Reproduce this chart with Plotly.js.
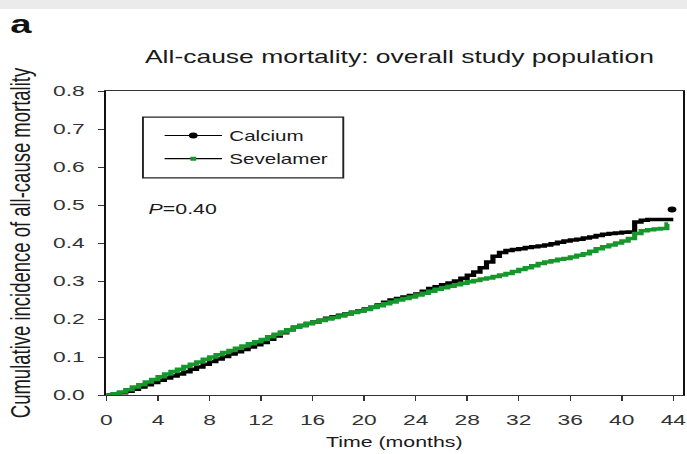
<!DOCTYPE html>
<html>
<head>
<meta charset="utf-8">
<script src="https://cdn.plot.ly/plotly-3.0.1.min.js"></script>
<style>
  html, body { margin: 0; padding: 0; background: #ffffff; overflow: hidden; }
  #wrap { width: 687px; height: 454px; overflow: hidden; position: relative; }
  #chart { width: 467px; height: 454px; transform: scaleX(1.4711); transform-origin: 0 0; }
</style>
</head>
<body>
<div id="wrap"><div id="chart"></div></div>
<script>
// ---- data ----
const panelLabel = "a";
const chartTitle = "All-cause mortality: overall study population";
const xTitle = "Time (months)";
const yTitle = "Cumulative incidence of all-cause mortality";
const seriesNames = ["Calcium", "Sevelamer"];
const pLabel = "<i>P</i>=0.40";
const xTickVals = [0, 4, 8, 12, 16, 20, 24, 28, 32, 36, 40, 44];
const yTickVals = [0, 0.1, 0.2, 0.3, 0.4, 0.5, 0.6, 0.7, 0.8];

const calciumTime = [0,0.5,1,1.5,2,2.5,3,3.5,4,4.5,5,5.5,6,6.5,7,7.5,8,8.5,9,9.5,10,10.5,11,11.5,12,12.5,13,13.5,14,14.5,15,15.5,16,16.5,17,17.5,18,18.5,19,19.5,20,20.5,21,21.5,22,22.5,23,23.5,24,24.5,25,25.5,26,26.5,27,27.5,28,28.5,29,29.5,30,30.5,31,31.5,32,32.5,33,33.5,34,34.5,35,35.5,36,36.5,37,37.5,38,38.5,39,39.5,40,40.5,41,41.5,42,44];
const calciumValue = [0,0.002,0.006,0.010,0.015,0.021,0.027,0.033,0.039,0.045,0.050,0.055,0.061,0.068,0.074,0.081,0.088,0.095,0.101,0.108,0.114,0.120,0.126,0.132,0.138,0.147,0.155,0.164,0.172,0.178,0.183,0.188,0.192,0.197,0.202,0.206,0.210,0.214,0.218,0.222,0.226,0.231,0.237,0.244,0.250,0.254,0.258,0.262,0.266,0.273,0.280,0.285,0.290,0.295,0.300,0.307,0.315,0.324,0.335,0.350,0.365,0.375,0.380,0.383,0.385,0.388,0.390,0.392,0.395,0.398,0.402,0.405,0.408,0.410,0.413,0.416,0.420,0.423,0.425,0.426,0.428,0.429,0.455,0.460,0.462,0.462];
const calciumEndTime = [43.9];
const calciumEndValue = [0.488];

const sevelamerTime = [0,0.5,1,1.5,2,2.5,3,3.5,4,4.5,5,5.5,6,6.5,7,7.5,8,8.5,9,9.5,10,10.5,11,11.5,12,12.5,13,13.5,14,14.5,15,15.5,16,16.5,17,17.5,18,18.5,19,19.5,20,20.5,21,21.5,22,22.5,23,23.5,24,24.5,25,25.5,26,26.5,27,27.5,28,28.5,29,29.5,30,30.5,31,31.5,32,32.5,33,33.5,34,34.5,35,35.5,36,36.5,37,37.5,38,38.5,39,39.5,40,40.5,41,41.5,42,42.5,43,43.5,43.6];
const sevelamerValue = [0,0.003,0.008,0.014,0.021,0.027,0.034,0.041,0.048,0.055,0.062,0.068,0.075,0.081,0.087,0.094,0.100,0.106,0.112,0.117,0.123,0.129,0.135,0.140,0.146,0.153,0.160,0.166,0.172,0.178,0.183,0.188,0.192,0.196,0.200,0.204,0.208,0.213,0.217,0.221,0.225,0.230,0.235,0.240,0.245,0.250,0.254,0.258,0.263,0.268,0.273,0.278,0.282,0.286,0.290,0.294,0.298,0.301,0.305,0.308,0.312,0.316,0.320,0.325,0.330,0.335,0.340,0.346,0.350,0.353,0.357,0.359,0.363,0.368,0.372,0.378,0.385,0.390,0.395,0.400,0.405,0.412,0.425,0.432,0.435,0.437,0.438,0.450,0.450];

// ---- styling ----
const FONT = "Liberation Sans, Arial, Helvetica, sans-serif";
const BLACK = "#000000";
const GREEN = "#17962b";

const traces = [
  { x: calciumTime, y: calciumValue, type: "scatter", mode: "lines",
    line: { color: BLACK, width: 3.5, shape: "hv" }, showlegend: false, hoverinfo: "skip" },
  { x: calciumEndTime, y: calciumEndValue, type: "scatter", mode: "markers",
    marker: { color: BLACK, size: 6 }, showlegend: false, hoverinfo: "skip" },
  { x: sevelamerTime, y: sevelamerValue, type: "scatter", mode: "lines",
    line: { color: GREEN, width: 3.5, shape: "hv" }, showlegend: false, hoverinfo: "skip" },
  // legend entries
  { x: [null], y: [null], type: "scatter", mode: "lines+markers", name: seriesNames[0],
    line: { color: "rgb(0,0,0)", width: 1.2 }, marker: { color: BLACK, size: 6 }, legendgroup: "c" },
  { x: [null], y: [null], type: "scatter", mode: "lines+markers", name: seriesNames[1],
    line: { color: "rgb(0,0,0)", width: 1.2 },
    marker: { color: GREEN, size: 4, symbol: "square", line: { width: 0 } }, legendgroup: "s" }
];

const layout = {
  width: 467, height: 454,
  margin: { l: 72.05, r: 3.4, t: 91, b: 59, pad: 0 },
  paper_bgcolor: "#ffffff", plot_bgcolor: "#ffffff",
  font: { family: FONT, color: "#1a1a1a", size: 14 },
  title: { text: chartTitle, font: { family: FONT, size: 18, color: "#1a1a1a" },
           x: 0.509, xref: "paper", xanchor: "center", y: 1 - 57/454, yref: "container", yanchor: "middle" },
  showlegend: true,
  legend: { x: 0.089, xanchor: "left", y: 0.905, yanchor: "top",
            bgcolor: "rgba(0,0,0,0)", borderwidth: 0, itemwidth: 39,
            font: { family: FONT, size: 14, color: "#1a1a1a" }, traceorder: "grouped", tracegroupgap: 2 },
  xaxis: {
    range: [-0.04, 44.72], tickvals: xTickVals, ticktext: xTickVals.map(String),
    showgrid: false, zeroline: false, showline: true, linecolor: "#333333", linewidth: 1.2, mirror: true,
    ticks: "outside", ticklen: 5, tickwidth: 1, tickcolor: "#333333", ticklabelstandoff: 5,
    tickfont: { family: FONT, size: 15.5, color: "#333333" },
    title: { text: xTitle, font: { family: FONT, size: 14.5, color: "#1a1a1a" }, standoff: 10 },
    automargin: false
  },
  yaxis: {
    range: [0, 0.8], tickvals: yTickVals, tickformat: ".1f",
    showgrid: false, zeroline: false, showline: true, linecolor: "#111111", linewidth: 1.3, mirror: true,
    ticks: "outside", ticklen: 4, tickwidth: 1, tickcolor: "#333333", ticklabelstandoff: 6,
    tickfont: { family: FONT, size: 15.5, color: "#333333" },
    title: { text: yTitle, font: { family: FONT, size: 18.5, color: "#1a1a1a" }, standoff: 10 },
    automargin: false
  },
  shapes: [
    { type: "rect", xref: "paper", yref: "paper", x0: -0.3, x1: 1.2, y0: 1.27, y1: 1.35,
      fillcolor: "#ebebeb", line: { width: 0 }, layer: "below" },
    { type: "rect", xref: "paper", yref: "paper", x0: 0.0642, x1: 0.4116, y0: 0.714, y1: 0.914,
      fillcolor: "rgba(0,0,0,0)", line: { color: "#222222", width: 1.3 } }
  ],
  annotations: [
    { text: "<b>" + panelLabel + "</b>", xref: "paper", yref: "paper", x: -0.147, y: 1.22,
      xanchor: "center", yanchor: "middle", showarrow: false,
      font: { family: FONT, size: 26, color: "#111111" } },
    { text: pLabel, xref: "paper", yref: "paper", x: 0.0678, y: 0.612,
      xanchor: "left", yanchor: "middle", showarrow: false,
      font: { family: FONT, size: 14.5, color: "#1a1a1a" } }
  ]
};

Plotly.newPlot("chart", traces, layout, { displayModeBar: false, staticPlot: true });
</script>
</body>
</html>
